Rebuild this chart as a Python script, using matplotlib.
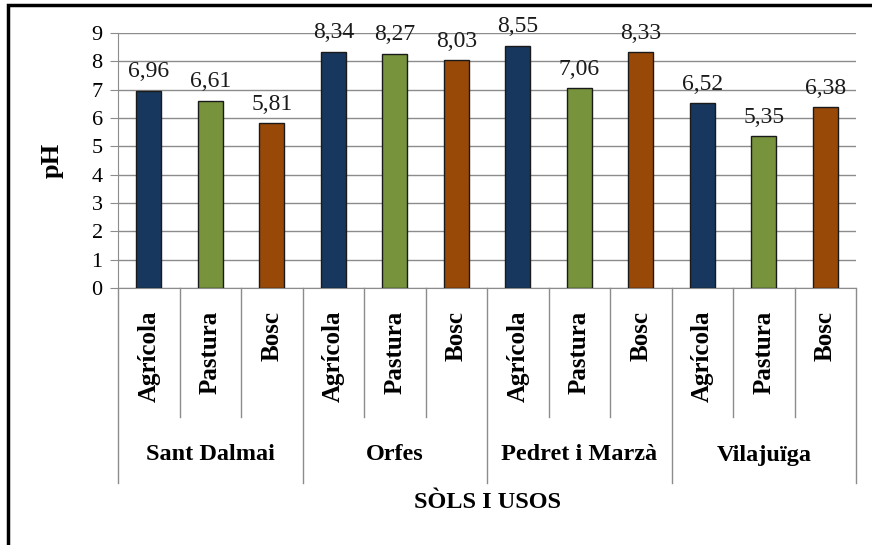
import matplotlib
matplotlib.use("Agg")
import matplotlib.pyplot as plt
from matplotlib import rcParams
from matplotlib.patches import Rectangle

rcParams["font.family"] = "Liberation Serif"

# data
sites = ["Sant Dalmai", "Orfes", "Pedret i Marzà", "Vilajuïga"]
uses = ["Agrícola", "Pastura", "Bosc"]
ph_agricola = [6.96, 8.34, 8.55, 6.52]
ph_pastura = [6.61, 8.27, 7.06, 5.35]
ph_bosc = [5.81, 8.03, 8.33, 6.38]
y_ticks = [0, 1, 2, 3, 4, 5, 6, 7, 8, 9]

NAVY = "#17375E"
GREEN = "#77933C"
BROWN = "#984807"
GRID = "#8C8C8C"

W, H = 872, 545
fig = plt.figure(figsize=(W / 100, H / 100), dpi=100)
fig.patch.set_facecolor("white")

# outer frame (only left/top visible in the crop)
fig.patches.append(Rectangle((8 / W, -0.1), 1.2, 1 - 5 / H + 0.1,
                             transform=fig.transFigure, fill=False,
                             edgecolor="black", linewidth=2.5))

x0, x1, ytop, ybot = 118, 856, 33, 288
ax = fig.add_axes([x0 / W, 1 - ybot / H, (x1 - x0) / W, (ybot - ytop) / H])

colors = [NAVY, GREEN, BROWN]
series = [ph_agricola, ph_pastura, ph_bosc]
values, cols, labels = [], [], []
for i in range(len(sites)):
    for j in range(3):
        values.append(series[j][i])
        cols.append(colors[j])
        labels.append(uses[j])
xs = list(range(len(values)))

ax.bar(xs, values, width=0.41, color=cols, edgecolor="#1A1A1A", linewidth=1, zorder=3)
for x, v in zip(xs, values):
    ax.annotate(f"{v:.2f}".replace(".", ","), (x, v), xytext=(0, 6),
                textcoords="offset points", ha="center", va="bottom",
                fontsize=17, color="#1A1A1A", zorder=4)

ax.set_xlim(-0.5, len(values) - 0.5)
ax.set_ylim(0, 9)
ax.set_yticks(y_ticks)
ax.tick_params(axis="y", length=6, color=GRID, labelsize=16, pad=5)
ax.set_xticks([])
ax.grid(axis="y", color=GRID, linewidth=1)
ax.set_axisbelow(True)
for s in ["top", "right"]:
    ax.spines[s].set_visible(False)
ax.spines["left"].set_color(GRID)
ax.spines["bottom"].set_color(GRID)
ax.set_ylabel("pH", fontsize=19, fontweight="bold", labelpad=20)

# category axis: separators and labels
tr = ax.get_xaxis_transform()
h = ybot - ytop
inner_end = -(417 - ybot) / h
group_end = -(483 - ybot) / h
for k in range(len(values) + 1):
    b = k - 0.5
    end = group_end if k % 3 == 0 else inner_end
    ax.plot([b, b], [0, end], transform=tr, color=GRID, linewidth=1, clip_on=False)
for x, lab in zip(xs, labels):
    ax.text(x, -(311 - ybot) / h, lab, transform=tr, rotation=90, ha="center",
            va="top", fontsize=18, fontweight="bold")
for i, site in enumerate(sites):
    ax.text(3 * i + 1, -(455 - ybot) / h, site, transform=tr, ha="center",
            va="center", fontsize=17.5, fontweight="bold")

fig.text(487 / W, 1 - 502 / H, "SÒLS I USOS", ha="center", va="center",
         fontsize=17.5, fontweight="bold")

fig.savefig("out.png", dpi=100, facecolor="white")
